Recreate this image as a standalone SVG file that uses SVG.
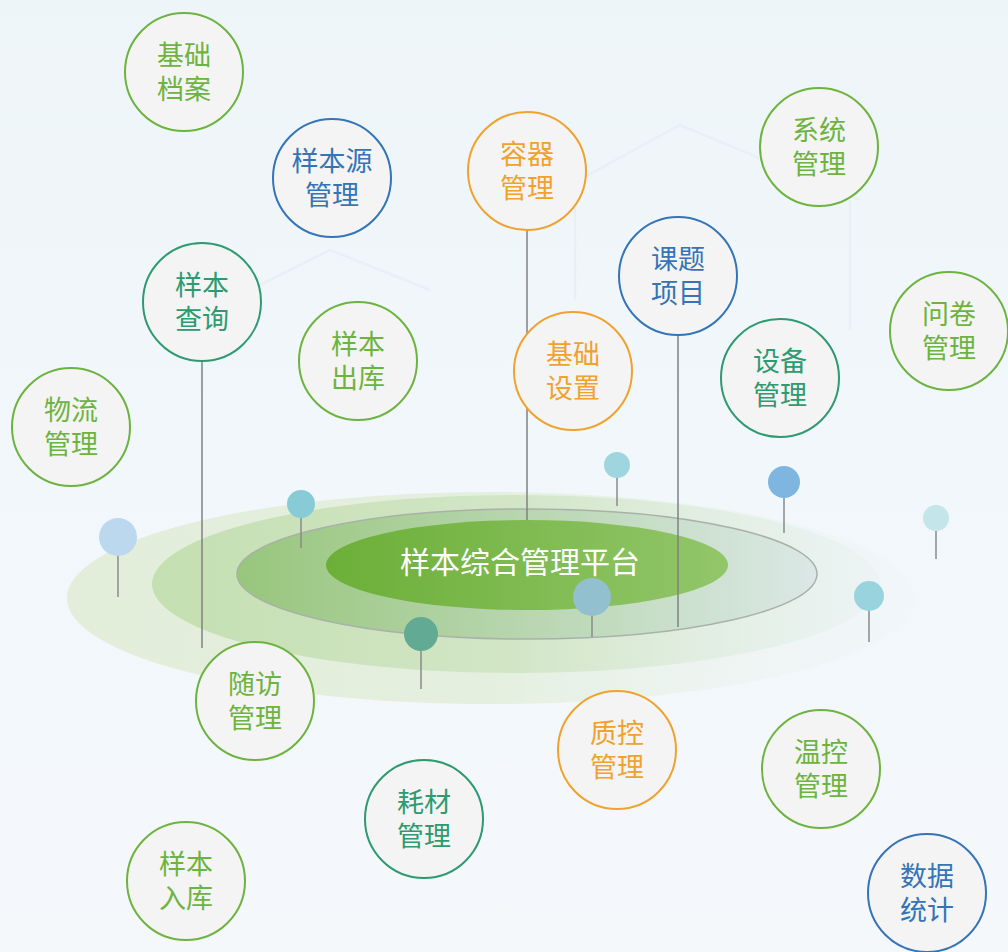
<svg xmlns="http://www.w3.org/2000/svg" width="1008" height="952" viewBox="0 0 1008 952">
<defs>
<linearGradient id="bg" x1="0" y1="0" x2="0" y2="1">
<stop offset="0" stop-color="#eef5f9"/>
<stop offset="0.5" stop-color="#f1f7fb"/>
<stop offset="1" stop-color="#f5f8fb"/>
</linearGradient>
<linearGradient id="e1" x1="0" y1="0" x2="1" y2="0">
<stop offset="0" stop-color="#e2edda"/>
<stop offset="0.5" stop-color="#e4efdf"/>
<stop offset="1" stop-color="#eef5f6" stop-opacity="0.3"/>
</linearGradient>
<linearGradient id="e2" x1="0" y1="0" x2="1" y2="0">
<stop offset="0" stop-color="#c4dfb1"/>
<stop offset="0.5" stop-color="#d2e6c6"/>
<stop offset="1" stop-color="#e6f0ee" stop-opacity="0.4"/>
</linearGradient>
<linearGradient id="e3" x1="0" y1="0" x2="1" y2="0">
<stop offset="0" stop-color="#98c67c"/>
<stop offset="0.5" stop-color="#b8d6b0"/>
<stop offset="1" stop-color="#dbe8e6"/>
</linearGradient>
<linearGradient id="e4" x1="0" y1="0" x2="1" y2="0">
<stop offset="0" stop-color="#6caf38"/>
<stop offset="1" stop-color="#92c66a"/>
</linearGradient>
<style>
.n circle{fill:#f4f4f4;stroke-width:2}
.n text{font-family:"Liberation Sans","Noto Sans CJK SC",sans-serif;font-size:27px;text-anchor:middle}
.g circle{stroke:#6db33f}.g text{fill:#6db33f}
.t circle{stroke:#2e9a6f}.t text{fill:#2e9a6f}
.b circle{stroke:#3474b7}.b text{fill:#3474b7}
.o circle{stroke:#f0a22e}.o text{fill:#f0a22e}
.ln{stroke:#808080;stroke-width:1.5;fill:none}
.st{stroke:#8a8a8a;stroke-width:1.5}
.deco{stroke:#e8f0f5;stroke-width:2.5;fill:none}
</style>
</defs>
<rect width="1008" height="952" fill="url(#bg)"/>
<g id="background">
<polyline class="deco" points="570,185 680,125 860,200"/>
<polyline class="deco" points="230,300 330,250 430,290"/>
<line class="deco" x1="575" y1="185" x2="575" y2="300"/>
<line class="deco" x1="850" y1="200" x2="850" y2="330"/>
</g>
<g id="platform">
<ellipse cx="491" cy="598" rx="424" ry="106" fill="url(#e1)"/>
<ellipse cx="516" cy="584" rx="364" ry="89" fill="url(#e2)"/>
<ellipse cx="527" cy="574" rx="290" ry="65" fill="url(#e3)" stroke="#a9b1a8" stroke-width="1.5"/>
<ellipse cx="527" cy="565" rx="201" ry="45" fill="url(#e4)"/>
<text x="520" y="573" font-family="Noto Sans CJK SC, sans-serif" font-size="30" fill="#ffffff" text-anchor="middle">样本综合管理平台</text>
</g>
<g id="connectors">
<line class="ln" x1="527" y1="230" x2="527" y2="520"/>
<line class="ln" x1="678" y1="335" x2="678" y2="627"/>
<line class="ln" x1="202" y1="361" x2="202" y2="648"/>
</g>
<g id="pins">
<line class="st" x1="118" y1="537" x2="118" y2="597"/><circle cx="118" cy="537" r="19" fill="#bcd8ee"/>
<line class="st" x1="301" y1="504" x2="301" y2="548"/><circle cx="301" cy="504" r="14" fill="#86cbd6"/>
<line class="st" x1="617" y1="465" x2="617" y2="506"/><circle cx="617" cy="465" r="13" fill="#9fd5de"/>
<line class="st" x1="784" y1="482" x2="784" y2="533"/><circle cx="784" cy="482" r="16" fill="#7fb6e0"/>
<line class="st" x1="936" y1="518" x2="936" y2="559"/><circle cx="936" cy="518" r="13" fill="#c4e5ea"/>
<line class="st" x1="869" y1="596" x2="869" y2="642"/><circle cx="869" cy="596" r="15" fill="#99d3de"/>
<line class="st" x1="592" y1="597" x2="592" y2="637"/><circle cx="592" cy="597" r="19" fill="#93c0cf"/>
<line class="st" x1="421" y1="634" x2="421" y2="689"/><circle cx="421" cy="634" r="17" fill="#62aa94"/>
</g>
<g id="n-jcda" class="n g"><circle cx="184" cy="72" r="59"/><text x="184" y="65"><tspan x="184">基础</tspan><tspan x="184" dy="33.5">档案</tspan></text></g>
<g id="n-ybygl" class="n b"><circle cx="332" cy="178" r="59"/><text x="332" y="171"><tspan x="332">样本源</tspan><tspan x="332" dy="33.5">管理</tspan></text></g>
<g id="n-rqgl" class="n o"><circle cx="527" cy="171" r="59"/><text x="527" y="164"><tspan x="527">容器</tspan><tspan x="527" dy="33.5">管理</tspan></text></g>
<g id="n-xtgl" class="n g"><circle cx="819" cy="147" r="59"/><text x="819" y="140"><tspan x="819">系统</tspan><tspan x="819" dy="33.5">管理</tspan></text></g>
<g id="n-ktxm" class="n b"><circle cx="678" cy="276" r="59"/><text x="678" y="269"><tspan x="678">课题</tspan><tspan x="678" dy="33.5">项目</tspan></text></g>
<g id="n-wjgl" class="n g"><circle cx="949" cy="331" r="59"/><text x="949" y="324"><tspan x="949">问卷</tspan><tspan x="949" dy="33.5">管理</tspan></text></g>
<g id="n-ybcx" class="n t"><circle cx="202" cy="302" r="59"/><text x="202" y="295"><tspan x="202">样本</tspan><tspan x="202" dy="33.5">查询</tspan></text></g>
<g id="n-ybck" class="n g"><circle cx="358" cy="361" r="59"/><text x="358" y="354"><tspan x="358">样本</tspan><tspan x="358" dy="33.5">出库</tspan></text></g>
<g id="n-jcsz" class="n o"><circle cx="573" cy="371" r="59"/><text x="573" y="364"><tspan x="573">基础</tspan><tspan x="573" dy="33.5">设置</tspan></text></g>
<g id="n-sbgl" class="n t"><circle cx="780" cy="378" r="59"/><text x="780" y="371"><tspan x="780">设备</tspan><tspan x="780" dy="33.5">管理</tspan></text></g>
<g id="n-wlgl" class="n g"><circle cx="71" cy="427" r="59"/><text x="71" y="420"><tspan x="71">物流</tspan><tspan x="71" dy="33.5">管理</tspan></text></g>
<g id="n-sfgl" class="n g"><circle cx="255" cy="701" r="59"/><text x="255" y="694"><tspan x="255">随访</tspan><tspan x="255" dy="33.5">管理</tspan></text></g>
<g id="n-zkgl" class="n o"><circle cx="617" cy="750" r="59"/><text x="617" y="743"><tspan x="617">质控</tspan><tspan x="617" dy="33.5">管理</tspan></text></g>
<g id="n-wkgl" class="n g"><circle cx="821" cy="769" r="59"/><text x="821" y="762"><tspan x="821">温控</tspan><tspan x="821" dy="33.5">管理</tspan></text></g>
<g id="n-hcgl" class="n t"><circle cx="424" cy="819" r="59"/><text x="424" y="812"><tspan x="424">耗材</tspan><tspan x="424" dy="33.5">管理</tspan></text></g>
<g id="n-ybrk" class="n g"><circle cx="186" cy="881" r="59"/><text x="186" y="874"><tspan x="186">样本</tspan><tspan x="186" dy="33.5">入库</tspan></text></g>
<g id="n-sjtj" class="n b"><circle cx="927" cy="893" r="59"/><text x="927" y="886"><tspan x="927">数据</tspan><tspan x="927" dy="33.5">统计</tspan></text></g>
</svg>
